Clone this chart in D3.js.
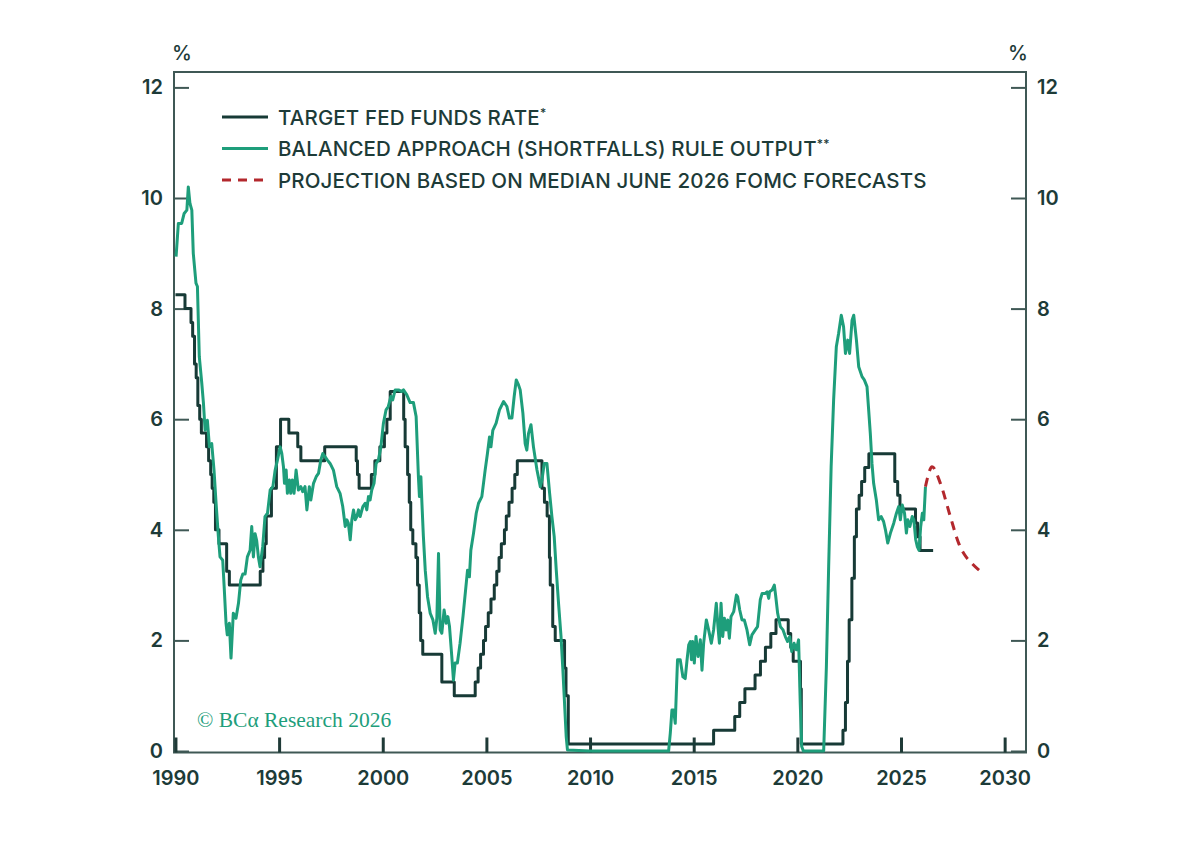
<!DOCTYPE html>
<html>
<head>
<meta charset="utf-8">
<script src="https://cdn.jsdelivr.net/npm/d3@7"></script>
<style>
  html, body { margin: 0; padding: 0; background: #ffffff; }
  svg { display: block; }
</style>
</head>
<body>
<svg id="chart" width="1200" height="860"></svg>
<script>
// ---------------- DATA ----------------
// Target fed funds rate: change dates (decimal years) and levels (%)
const ffDates = [1990.0, 1990.46, 1990.75, 1990.83, 1990.92, 1991.0, 1991.08, 1991.17, 1991.25, 1991.5, 1991.6, 1991.7, 1991.77, 1991.85, 1991.93,
  1992.1, 1992.47, 1992.6, 1994.09, 1994.22, 1994.3, 1994.38, 1994.63, 1994.87, 1995.07, 1995.47, 1995.9, 1996.05,
  1997.2, 1998.72, 1998.78, 1998.86, 1999.45, 1999.62, 1999.86, 2000.08, 2000.2, 2000.36,
  2001.01, 2001.08, 2001.2, 2001.28, 2001.35, 2001.45, 2001.6, 2001.68, 2001.76, 2001.83, 2001.93,
  2002.85, 2003.45, 2004.46, 2004.6, 2004.72, 2004.86, 2004.96, 2005.09, 2005.22, 2005.38, 2005.5, 2005.61, 2005.72, 2005.87, 2005.96,
  2006.09, 2006.24, 2006.37, 2006.49, 2007.68, 2007.8, 2007.93, 2008.04, 2008.08, 2008.2, 2008.32, 2008.77, 2008.84, 2008.95,
  2015.96, 2016.98, 2017.22, 2017.47, 2017.96, 2018.22, 2018.46, 2018.72, 2018.97, 2019.56, 2019.68, 2019.8, 2020.15, 2020.19,
  2022.2, 2022.32, 2022.42, 2022.5, 2022.63, 2022.75, 2022.85, 2022.98, 2023.1, 2023.25, 2023.45,
  2024.7, 2024.84, 2024.95, 2025.7, 2025.8, 2025.92, 2026.55];
const ffValues = [8.25, 8.0, 7.75, 7.5, 7.0, 6.75, 6.25, 6.0, 5.75, 5.5, 5.25, 5.0, 4.75, 4.5, 4.0,
  3.75, 3.25, 3.0, 3.25, 3.5, 3.75, 4.25, 4.75, 5.5, 6.0, 5.75, 5.5, 5.25,
  5.5, 5.25, 5.0, 4.75, 5.0, 5.25, 5.5, 5.75, 6.0, 6.5,
  6.0, 5.5, 5.0, 4.5, 4.0, 3.75, 3.5, 3.0, 2.5, 2.0, 1.75,
  1.25, 1.0, 1.25, 1.5, 1.75, 2.0, 2.25, 2.5, 2.75, 3.0, 3.25, 3.5, 3.75, 4.0, 4.25,
  4.5, 4.75, 5.0, 5.25, 4.75, 4.5, 4.25, 3.5, 3.0, 2.25, 2.0, 1.5, 1.0, 0.125,
  0.375, 0.625, 0.875, 1.125, 1.375, 1.625, 1.875, 2.125, 2.375, 2.125, 1.875, 1.625, 1.125, 0.125,
  0.375, 0.875, 1.625, 2.375, 3.125, 3.875, 4.375, 4.625, 4.875, 5.125, 5.375,
  4.875, 4.625, 4.375, 4.125, 3.875, 3.625, 3.625];

// Balanced approach (shortfalls) rule output
const ruleDates = [1990.03, 1990.14, 1990.30, 1990.42, 1990.55, 1990.62, 1990.70, 1990.79, 1990.86, 1990.99, 1991.06, 1991.15, 1991.27, 1991.35, 1991.43,
  1991.54, 1991.64, 1991.75, 1991.86, 1991.96, 1992.07, 1992.15, 1992.28, 1992.35, 1992.44, 1992.50, 1992.60, 1992.68, 1992.79, 1992.92,
  1993.04, 1993.15, 1993.25, 1993.36, 1993.47, 1993.60, 1993.68, 1993.76, 1993.84, 1993.92, 1994.00, 1994.08, 1994.21, 1994.32, 1994.44,
  1994.57, 1994.70, 1994.81, 1994.92, 1995.05, 1995.13, 1995.21, 1995.26, 1995.34, 1995.40, 1995.50, 1995.56, 1995.64, 1995.72, 1995.82,
  1995.93, 1996.05, 1996.14, 1996.25, 1996.34, 1996.46, 1996.53, 1996.66, 1996.79, 1996.90, 1997.01, 1997.11, 1997.22, 1997.33, 1997.46,
  1997.62, 1997.78, 1997.94, 1998.07, 1998.19, 1998.27, 1998.34, 1998.43, 1998.51, 1998.59, 1998.67, 1998.75, 1998.83, 1998.91, 1999.04,
  1999.15, 1999.23, 1999.31, 1999.39, 1999.47, 1999.58, 1999.68, 1999.79, 1999.91, 2000.03, 2000.16, 2000.27, 2000.39, 2000.48, 2000.60,
  2000.76, 2000.92, 2001.00, 2001.16, 2001.32, 2001.48, 2001.61, 2001.72, 2001.77, 2001.84, 2001.89, 2001.96, 2002.05, 2002.16, 2002.29,
  2002.42, 2002.53, 2002.61, 2002.69, 2002.77, 2002.85, 2002.96, 2003.06, 2003.14, 2003.22, 2003.33, 2003.41, 2003.49, 2003.60, 2003.73,
  2003.87, 2003.98, 2004.09, 2004.18, 2004.25, 2004.38, 2004.51, 2004.62, 2004.78, 2004.94, 2005.05, 2005.15, 2005.22, 2005.31, 2005.47,
  2005.63, 2005.83, 2005.99, 2006.11, 2006.23, 2006.34, 2006.44, 2006.55, 2006.63, 2006.76, 2006.87, 2006.95, 2007.03, 2007.15, 2007.27,
  2007.44, 2007.60, 2007.68, 2007.79, 2007.92, 2008.05, 2008.16, 2008.27, 2008.37, 2008.48, 2008.60, 2008.69, 2008.77, 2008.85, 2008.91,
  2010.0, 2012.0, 2013.79, 2013.87, 2013.95, 2014.03, 2014.11, 2014.16, 2014.22, 2014.35, 2014.48, 2014.59, 2014.68, 2014.76, 2014.84,
  2014.89, 2014.95, 2015.03, 2015.11, 2015.21, 2015.32, 2015.40, 2015.48, 2015.61, 2015.72, 2015.85, 2015.96, 2016.09, 2016.17, 2016.24,
  2016.32, 2016.40, 2016.48, 2016.56, 2016.64, 2016.72, 2016.80, 2016.93, 2017.06, 2017.12, 2017.22, 2017.33, 2017.44, 2017.57, 2017.70,
  2017.81, 2017.97, 2018.08, 2018.21, 2018.30, 2018.46, 2018.54, 2018.62, 2018.66, 2018.78, 2018.89, 2018.95, 2019.05, 2019.18, 2019.31,
  2019.42, 2019.53, 2019.63, 2019.73, 2019.84, 2019.95, 2020.06, 2020.14, 2020.21, 2020.29, 2021.27, 2021.40, 2021.51, 2021.63, 2021.75,
  2021.88, 2021.99, 2022.12, 2022.23, 2022.32, 2022.43, 2022.52, 2022.64, 2022.72, 2022.85, 2022.96, 2023.12, 2023.23, 2023.36, 2023.44,
  2023.52, 2023.60, 2023.68, 2023.81, 2023.92, 2024.04, 2024.16, 2024.25, 2024.36, 2024.49, 2024.65, 2024.78, 2024.89, 2024.97, 2025.06,
  2025.17, 2025.26, 2025.33, 2025.43, 2025.54, 2025.62, 2025.71, 2025.79, 2025.87, 2025.95, 2026.03, 2026.10, 2026.18];
const ruleValues = [8.94, 9.54, 9.54, 9.72, 9.78, 10.2, 9.9, 9.78, 9.0, 8.46, 8.4, 7.13, 6.65, 6.29, 5.8,
  5.98, 5.5, 5.56, 5.08, 4.48, 3.88, 3.51, 3.45, 2.97, 2.31, 2.1, 2.31, 1.68, 2.49, 2.4,
  2.67, 3.09, 3.2, 3.2, 3.51, 3.63, 4.06, 3.51, 3.93, 3.8, 3.51, 3.33, 3.7, 4.24, 4.3,
  4.72, 4.78, 5.08, 5.26, 5.5, 5.38, 5.14, 4.84, 5.08, 4.66, 4.9, 4.66, 4.9, 4.66, 5.08,
  4.72, 4.78, 4.69, 4.78, 4.36, 4.78, 4.54, 4.84, 4.96, 5.02, 5.26, 5.38, 5.32, 5.26, 5.2,
  5.08, 4.78, 4.66, 4.42, 4.06, 4.18, 4.12, 3.82, 4.18, 4.36, 4.18, 4.24, 4.36, 4.24, 4.42,
  4.48, 4.36, 4.6, 4.54, 4.72, 4.84, 5.2, 5.26, 5.5, 5.92, 6.17, 6.23, 6.41, 6.35, 6.53,
  6.53, 6.5, 6.53, 6.44, 6.3, 6.3, 6.05, 4.96, 4.6, 4.96, 4.48, 3.88, 3.27, 2.79, 2.49,
  2.37, 2.13, 2.4, 3.57, 2.19, 2.13, 2.55, 2.31, 2.43, 2.25, 1.71, 1.28, 1.59, 1.59, 1.95,
  2.43, 2.85, 3.27, 3.15, 3.63, 3.94, 4.3, 4.48, 4.6, 5.08, 5.38, 5.68, 5.5, 5.8, 5.93,
  6.17, 6.32, 6.23, 6.02, 6.02, 6.41, 6.71, 6.62, 6.53, 6.11, 5.56, 5.44, 5.74, 5.9, 5.5,
  5.08, 4.78, 4.9, 5.2, 5.2, 4.66, 4.24, 3.88, 3.27, 2.67, 2.07, 1.46, 0.86, 0.26, 0.02,
  0.0, 0.0, 0.0, 0.32, 0.74, 0.74, 0.5, 1.04, 1.65, 1.65, 1.34, 1.31, 1.65, 1.92, 1.98,
  1.65, 1.98, 1.59, 2.07, 1.71, 2.01, 1.46, 1.95, 2.37, 2.19, 1.95, 2.19, 2.67, 2.25, 1.95,
  2.67, 2.07, 2.4, 2.19, 2.37, 2.04, 2.43, 2.52, 2.82, 2.79, 2.55, 2.37, 2.37, 2.19, 1.92,
  2.1, 2.19, 2.25, 2.73, 2.85, 2.85, 2.88, 2.76, 2.88, 2.91, 3.0, 2.82, 2.49, 2.25, 2.19,
  2.07, 1.98, 2.07, 1.8, 1.95, 1.83, 2.01, 0.86, 0.08, 0.0, 0.0, 1.52, 3.33, 5.14, 6.35,
  7.31, 7.55, 7.88, 7.67, 7.19, 7.43, 7.19, 7.79, 7.88, 7.43, 6.95, 6.77, 6.71, 6.59, 6.17,
  5.74, 5.2, 4.84, 4.54, 4.18, 4.24, 4.15, 4.0, 3.76, 3.94, 4.12, 4.3, 4.42, 4.18, 4.45,
  4.3, 3.94, 4.18, 4.06, 4.24, 4.18, 3.82, 3.69, 3.63, 4.06, 4.3, 4.18, 4.78];

// Projection based on median June 2026 FOMC forecasts
const projDates = [2026.18, 2026.5, 2026.9, 2027.38, 2027.78, 2028.03, 2028.43, 2028.96];
const projValues = [4.78, 5.14, 4.84, 4.24, 3.76, 3.57, 3.39, 3.21];

const yTicks = [0, 2, 4, 6, 8, 10, 12];
const xTicks = [1990, 1995, 2000, 2005, 2010, 2015, 2020, 2025, 2030];
const legendLabels = ["TARGET FED FUNDS RATE", "BALANCED APPROACH (SHORTFALLS) RULE OUTPUT", "PROJECTION BASED ON MEDIAN JUNE 2026 FOMC FORECASTS"];
const legendMarks = ["*", "**", ""];
const unitLabel = "%";
const sourceLabel = "© BCα Research 2026";

// ---------------- STYLE ----------------
const C_DARK = "#173a36";
const C_GREEN = "#1e9e7b";
const C_RED = "#b3282d";
const C_AXIS = "#3f5855";
const C_TEXT = "#1d3b38";
const FONT = "Inter, 'Open Sans', sans-serif";

const svg = d3.select("#chart");
const frame = { left: 174, right: 1026, top: 72, bottom: 752.5 };

const x = d3.scaleLinear().domain([1989.93, 2031.03]).range([frame.left, frame.right]);
const y = d3.scaleLinear().domain([0, 12]).range([751, 87.4]);

// frame
svg.append("rect")
  .attr("x", frame.left).attr("y", frame.top)
  .attr("width", frame.right - frame.left).attr("height", frame.bottom - frame.top)
  .attr("fill", "none").attr("stroke", C_AXIS).attr("stroke-width", 2);

// y axes (left / right), inward ticks
const yLeft = d3.axisLeft(y).tickValues(yTicks).tickSizeInner(-15).tickSizeOuter(0).tickPadding(11);
const gL = svg.append("g").attr("transform", `translate(${frame.left},0)`).call(yLeft);
const yRight = d3.axisRight(y).tickValues(yTicks).tickSizeInner(-15).tickSizeOuter(0).tickPadding(11);
const gR = svg.append("g").attr("transform", `translate(${frame.right},0)`).call(yRight);

// x axis, inward ticks
const xAxis = d3.axisBottom(x).tickValues(xTicks).tickFormat(d3.format("d")).tickSizeInner(-15).tickSizeOuter(0).tickPadding(18);
const gX = svg.append("g").attr("transform", `translate(0,${frame.bottom})`).call(xAxis);

[gL, gR, gX].forEach(g => {
  g.select(".domain").remove();
  g.selectAll(".tick line").attr("stroke", C_AXIS).attr("stroke-width", 2);
  g.selectAll(".tick text")
    .attr("fill", C_TEXT)
    .style("font-family", FONT)
    .style("font-size", "20px")
    .style("font-weight", 600);
});
gX.selectAll(".tick line").attr("stroke", "#1f3a37").attr("stroke-width", 3);

// unit labels
svg.append("text").attr("x", frame.left + 8).attr("y", 60).attr("text-anchor", "middle")
  .attr("fill", C_TEXT).style("font-family", FONT).style("font-size", "20px").style("font-weight", 500).text(unitLabel);
svg.append("text").attr("x", frame.right - 8).attr("y", 60).attr("text-anchor", "middle")
  .attr("fill", C_TEXT).style("font-family", FONT).style("font-size", "20px").style("font-weight", 500).text(unitLabel);

// series
const ffData = ffDates.map((d, i) => [d, ffValues[i]]);
const ruleData = ruleDates.map((d, i) => [d, ruleValues[i]]);
const projData = projDates.map((d, i) => [d, projValues[i]]);

const stepLine = d3.line().x(d => x(d[0])).y(d => y(d[1])).curve(d3.curveStepAfter);
const plainLine = d3.line().x(d => x(d[0])).y(d => y(d[1]));
const smoothLine = d3.line().x(d => x(d[0])).y(d => y(d[1])).curve(d3.curveMonotoneX);

svg.append("path").datum(ffData).attr("d", stepLine)
  .attr("fill", "none").attr("stroke", C_DARK).attr("stroke-width", 3).attr("stroke-linejoin", "round");
svg.append("path").datum(ruleData).attr("d", plainLine)
  .attr("fill", "none").attr("stroke", C_GREEN).attr("stroke-width", 3).attr("stroke-linejoin", "round");
svg.append("path").datum(projData).attr("d", smoothLine)
  .attr("fill", "none").attr("stroke", C_RED).attr("stroke-width", 3).attr("stroke-dasharray", "9,7");

// legend
const legendColors = [C_DARK, C_GREEN, C_RED];
const legendDash = [null, null, "9,7"];
const lg = svg.append("g");
legendLabels.forEach((lab, i) => {
  const yy = 117 + i * 31.5;
  lg.append("line").attr("x1", 222).attr("x2", 268).attr("y1", yy).attr("y2", yy)
    .attr("stroke", legendColors[i]).attr("stroke-width", 3)
    .attr("stroke-dasharray", legendDash[i]);
  const t = lg.append("text").attr("x", 278).attr("y", yy + 7.5)
    .attr("fill", C_TEXT).style("font-family", FONT).style("font-size", "20.5px").style("font-weight", 500)
    .style("letter-spacing", "0.15px");
  t.append("tspan").text(lab);
  if (legendMarks[i]) {
    t.append("tspan").attr("dy", -8).style("font-size", "12px").text(legendMarks[i]);
  }
});

// source
svg.append("text").attr("x", 197).attr("y", 727)
  .attr("fill", C_GREEN).style("font-family", "'Liberation Serif', 'DejaVu Serif', serif")
  .style("font-size", "21.5px").text(sourceLabel);
</script>
</body>
</html>
